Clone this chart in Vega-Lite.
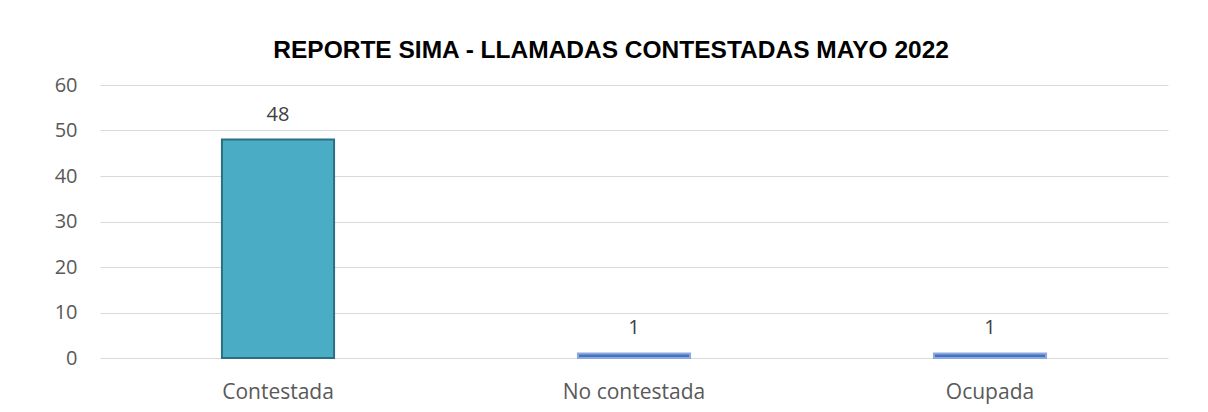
{
  "$schema": "https://vega.github.io/schema/vega-lite/v6.json",
  "autosize": {"type": "none"},
  "width": 1068,
  "height": 273,
  "padding": {"left": 100, "top": 85, "right": 40, "bottom": 54},
  "background": "#ffffff",
  "title": {
    "text": "REPORTE SIMA - LLAMADAS CONTESTADAS MAYO 2022",
    "font": "Liberation Sans",
    "fontSize": 24.5,
    "fontWeight": "bold",
    "color": "#000000",
    "anchor": "middle",
    "frame": "bounds",
    "offset": 12
  },
  "data": {
    "values": [
      {"categoria": "Contestada", "valor": 48},
      {"categoria": "No contestada", "valor": 1},
      {"categoria": "Ocupada", "valor": 1}
    ]
  },
  "encoding": {
    "x": {
      "field": "categoria",
      "type": "nominal",
      "sort": null,
      "scale": {"paddingInner": 0.685, "paddingOuter": 0.3425},
      "axis": {
        "title": null,
        "labelAngle": 0,
        "ticks": false,
        "domain": false,
        "labelPadding": 23,
        "labelFont": "Open Sans",
        "labelFontSize": 21,
        "labelColor": "#595959"
      }
    },
    "y": {
      "field": "valor",
      "type": "quantitative",
      "scale": {"domain": [0, 60]},
      "axis": {
        "title": null,
        "values": [0, 10, 20, 30, 40, 50, 60],
        "ticks": false,
        "domain": false,
        "labelPadding": 23,
        "labelFont": "Open Sans",
        "labelFontSize": 20,
        "labelColor": "#595959",
        "gridColor": "#d9d9d9",
        "gridWidth": 1
      }
    }
  },
  "layer": [
    {
      "mark": {"type": "bar", "strokeWidth": 2},
      "encoding": {
        "color": {
          "field": "categoria",
          "type": "nominal",
          "scale": {"domain": ["Contestada", "No contestada", "Ocupada"], "range": ["#4bacc6", "#4472c4", "#4472c4"]},
          "legend": null
        },
        "stroke": {
          "field": "categoria",
          "type": "nominal",
          "scale": {"domain": ["Contestada", "No contestada", "Ocupada"], "range": ["#2b6f82", "#8ea9db", "#8ea9db"]},
          "legend": null
        }
      }
    },
    {
      "mark": {"type": "text", "dy": -25, "font": "Open Sans", "fontSize": 20, "color": "#404040"},
      "encoding": {"text": {"field": "valor", "type": "quantitative"}}
    }
  ],
  "config": {"view": {"stroke": null}}
}
